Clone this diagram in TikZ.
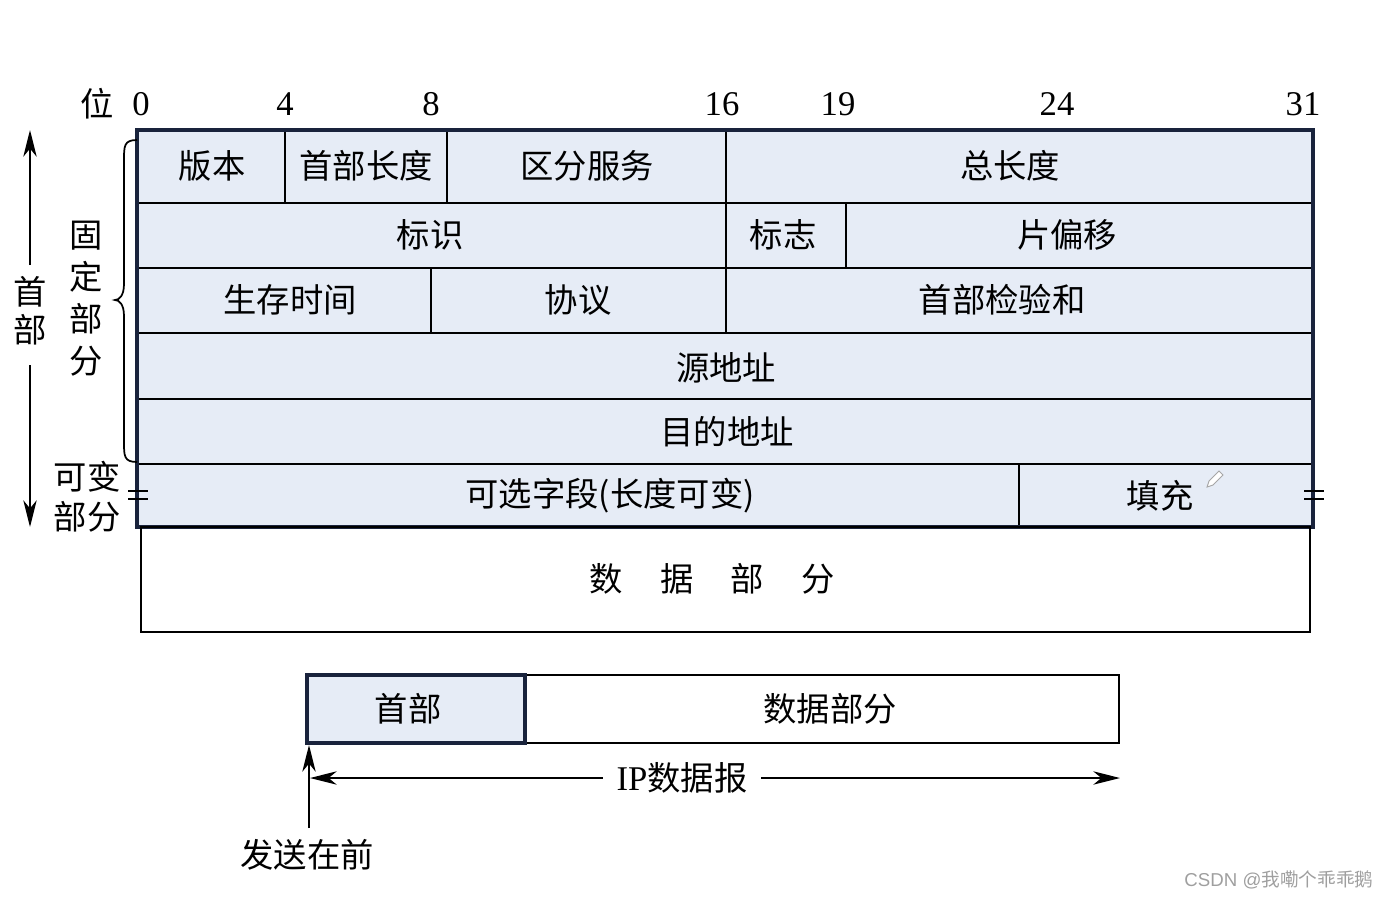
\documentclass[tikz,border=0pt]{standalone}
\usepackage{fontspec}
\setmainfont{Liberation Serif}
\newfontfamily\cjk{Noto Sans CJK SC}
\newfontfamily\wmsans{Liberation Sans}
\usetikzlibrary{arrows.meta,fit}
\definecolor{hdrfill}{RGB}{230,236,246}
\definecolor{navy}{RGB}{25,35,60}
\tikzset{
  cell/.style={draw=black, line width=1.2pt, inner sep=0pt, outer sep=0pt},
  hdrbg/.style={fill=hdrfill, inner sep=0pt, outer sep=0pt},
  outerline/.style={draw=navy, line width=2.4pt},
  databox/.style={draw=black, line width=1.1pt, inner sep=0pt, outer sep=0pt},
  t/.style={font=\cjk\fontsize{25}{30}\selectfont, inner sep=0pt},
  num/.style={font=\fontsize{26}{30}\selectfont, inner sep=0pt},
  arr/.style={line width=1.4pt, -{Stealth[length=20pt,width=10pt,inset=6pt]}},
  eqmark/.style={line width=1.2pt},
}
\begin{document}
\begin{tikzpicture}[x=0.75pt,y=-0.75pt]
\useasboundingbox (0,0) rectangle (1390,900);
% bit numbers
\node[t] (wei) at (97,104) {位};
\node[num] (b0) at (141,104) {0};
\node[num] (b4) at (285,104) {4};
\node[num] (b8) at (431,104) {8};
\node[num] (b16) at (722,104) {16};
\node[num] (b19) at (838,104) {19};
\node[num] (b24) at (1057,104) {24};
\node[num] (b31) at (1303,104) {31};
% header background
\node[hdrbg, fit={(137,130)(1313,527)}] (hdr) {};
% cells row 1
\node[cell, fit={(137,130)(285,203)}] (ver) {};
\node[cell, fit={(285,130)(447,203)}] (ihl) {};
\node[cell, fit={(447,130)(726,203)}] (ds) {};
\node[cell, fit={(726,130)(1313,203)}] (tl) {};
% row 2
\node[cell, fit={(137,203)(726,268)}] (ident) {};
\node[cell, fit={(726,203)(846,268)}] (flag) {};
\node[cell, fit={(846,203)(1313,268)}] (off) {};
% row 3
\node[cell, fit={(137,268)(431,333)}] (ttl) {};
\node[cell, fit={(431,268)(726,333)}] (proto) {};
\node[cell, fit={(726,268)(1313,333)}] (cks) {};
% row 4, 5
\node[cell, fit={(137,333)(1313,399)}] (src) {};
\node[cell, fit={(137,399)(1313,464)}] (dst) {};
% row 6
\node[cell, fit={(137,464)(1019,527)}] (opt) {};
\node[cell, fit={(1019,464)(1313,527)}] (pad) {};
\draw[outerline] (hdr.north west) rectangle (hdr.south east);
% cell labels
\node[t] (lver) at (212,166) {版本};
\node[t] (lihl) at (366,166) {首部长度};
\node[t] (lds) at (587,166) {区分服务};
\node[t] (ltl) at (1010,166) {总长度};
\node[t] (lid) at (430,235) {标识};
\node[t] (lflag) at (783,235) {标志};
\node[t] (loff) at (1067,235) {片偏移};
\node[t] (lttl) at (290,300) {生存时间};
\node[t] (lproto) at (578,300) {协议};
\node[t] (lcks) at (1002,300) {首部检验和};
\node[t] (lsrc) at (726,368) {源地址};
\node[t] (ldst) at (727,432) {目的地址};
\node[t] (lopt) at (610,496) {可选字段(长度可变)};
\node[t] (lpad) at (1160,496) {填充};
% pencil icon
\draw[gray!70, line width=0.7pt, fill=white] (1207,487) -- (1209,481) -- (1219,471) -- (1223,475) -- (1213,485) -- cycle;
% = marks
\draw[eqmark] (128,491) -- (148,491) (128,499) -- (148,499);
\draw[eqmark] (1304,491) -- (1324,491) (1304,499) -- (1324,499);
% data box
\node[databox, fit={(141,527)(1310,632)}] (data) {};
\node[t] (ldata) at (712,579) {数\hspace{28pt}据\hspace{28pt}部\hspace{28pt}分};
% left annotations
\coordinate (atop) at (30,130);
\coordinate (abot) at (30,527);
\coordinate (a1) at (30,265);
\coordinate (a2) at (30,365);
\draw[arr] (a1) -- (atop);
\draw[arr] (a2) -- (abot);
\node[t, align=center, font=\cjk\fontsize{25}{28.5}\selectfont] (shoubu) at (30,311) {首\\部};
\draw[line width=1.3pt] (137,140) .. controls (124,140) and (124,146) .. (124,160) -- (124,284) .. controls (124,296) and (119,300) .. (115,300) .. controls (119,300) and (124,304) .. (124,316) -- (124,442) .. controls (124,456) and (124,462) .. (137,462);
\node[t, align=center, font=\cjk\fontsize{25}{31.5}\selectfont] (guding) at (86,299) {固\\定\\部\\分};
\node[t, align=center, font=\cjk\fontsize{25}{30}\selectfont] (kebian) at (87,497) {可变\\部分};
% bottom datagram
\node[hdrbg, fit={(307,675)(525,743)}] (bhdr) {};
\node[databox, fit={(525,675)(1119,743)}] (bdata) {};
\draw[line width=2.4pt, draw=navy] (bhdr.north west) rectangle (bhdr.south east);
\node[t] (lbhdr) at (408,709) {首部};
\node[t] (lbdata) at (830,709) {数据部分};
\node[t, inner xsep=10pt] (ip) at (682,778) {{\fontsize{26}{30}\rmfamily IP}数据报};
\coordinate (ipL) at (310,778);
\coordinate (ipR) at (1120,778);
\draw[arr] (ip.west) -- (ipL);
\draw[arr] (ip.east) -- (ipR);
\coordinate (sbot) at (309,828);
\coordinate (stop) at (309,745);
\draw[arr] (sbot) -- (stop);
\node[t] (send) at (307,855) {发送在前};
% watermark
\node[inner sep=0pt, text=gray!75, font=\fontsize{14}{16}\selectfont] (wm) at (1279,880) {{\wmsans CSDN @}{\cjk 我嘞个乖乖鹅}};
\end{tikzpicture}
\end{document}
